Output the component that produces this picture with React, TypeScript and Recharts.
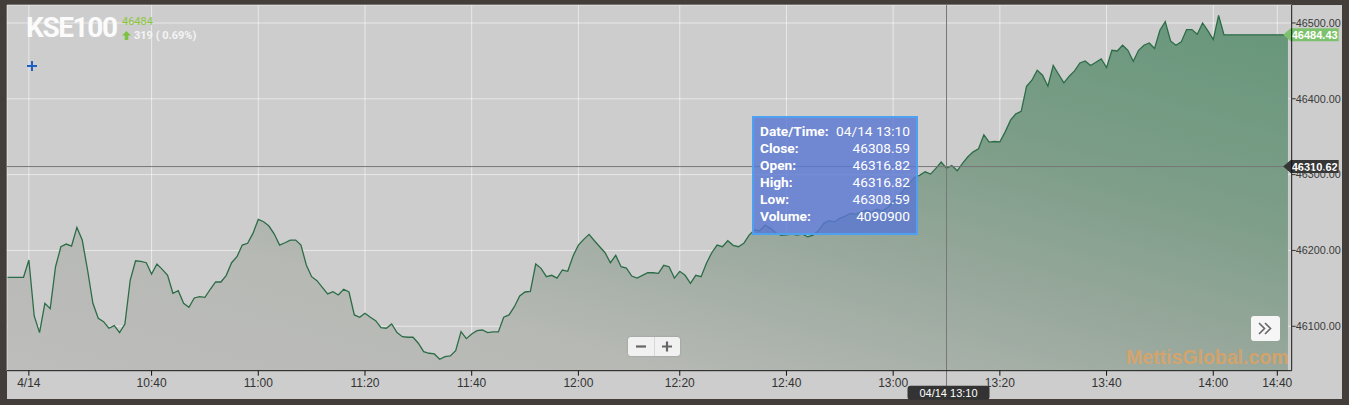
import React from 'react';
import {
  AreaChart,
  Area,
  XAxis,
  YAxis,
  CartesianGrid,
  Tooltip,
  ReferenceLine,
} from 'recharts';

document.body.style.margin = '0';

// one close per minute bar
const closes = [
  46164.6, 46164.6, 46164.6, 46164.6, 46187.4, 46113.6, 46091.6, 46130.3, 46123.2, 46178.5,
  46204.9, 46208.4, 46205.8, 46230.4, 46213.7, 46174.2, 46130.3, 46110.5, 46106.1, 46097.4,
  46100.8, 46091.6, 46103.0, 46161.0, 46186.4, 46185.6, 46183.8, 46168.9, 46182.1, 46175.1,
  46167.2, 46143.5, 46146.9, 46130.3, 46125.0, 46137.3, 46139.0, 46138.2, 46148.8, 46158.4,
  46158.4, 46167.2, 46183.8, 46191.7, 46207.1, 46209.4, 46222.5, 46241.0, 46237.8, 46232.2,
  46221.6, 46207.1, 46210.1, 46213.7, 46213.7, 46207.1, 46180.8, 46165.4, 46160.1, 46151.4,
  46142.6, 46145.6, 46141.2, 46148.8, 46145.2, 46114.9, 46111.9, 46117.1, 46111.9, 46107.4,
  46098.2, 46097.4, 46103.0, 46091.6, 46086.3, 46085.5, 46085.5, 46077.6, 46066.5, 46064.4,
  46063.5, 46056.5, 46060.0, 46060.9, 46067.9, 46092.9, 46083.7, 46089.9, 46094.2, 46095.1,
  46091.6, 46092.5, 46092.5, 46111.9, 46114.9, 46125.8, 46139.9, 46145.2, 46146.1, 46182.1,
  46176.4, 46165.4, 46167.2, 46163.6, 46174.2, 46172.5, 46192.6, 46207.1, 46214.6, 46221.2,
  46212.8, 46204.9, 46197.0, 46183.8, 46193.5, 46178.5, 46176.8, 46166.3, 46163.6, 46167.2,
  46170.6, 46170.6, 46169.8, 46180.4, 46178.5, 46163.6, 46172.5, 46167.2, 46156.7, 46167.2,
  46165.4, 46183.0, 46197.0, 46207.1, 46204.9, 46212.8, 46206.7, 46204.9, 46209.4, 46220.3,
  46226.9, 46226.0, 46233.5, 46229.1, 46223.3, 46219.9, 46220.7, 46221.6, 46220.3, 46221.6,
  46218.1, 46220.3, 46226.0, 46235.7, 46239.1, 46237.8, 46242.3, 46245.3, 46248.9, 46248.0,
  46250.6, 46253.2, 46250.6, 46254.2, 46252.3, 46256.8, 46264.2, 46270.8, 46280.5, 46288.4,
  46296.3, 46299.3, 46303.7, 46300.7, 46308.2, 46316.5, 46308.59, 46312.1, 46305.0, 46314.8,
  46323.5, 46330.0, 46334.0, 46352.4, 46342.8, 46343.7, 46343.2, 46356.4, 46371.8, 46380.1,
  46383.4, 46416.6, 46424.5, 46437.7, 46431.1, 46416.6, 46443.9, 46432.4, 46421.0, 46429.8,
  46436.8, 46447.3, 46449.9, 46443.9, 46448.2, 46452.6, 46441.2, 46464.0, 46463.1, 46470.6,
  46464.0, 46449.5, 46464.0, 46470.6, 46473.6, 46466.3, 46490.4, 46501.8, 46476.3, 46470.6,
  46475.0, 46491.3, 46491.3, 46485.1, 46500.0, 46489.5, 46478.1, 46510.1, 46484.43, 46484.43,
  46484.43, 46484.43, 46484.43, 46484.43, 46484.43, 46484.43, 46484.43, 46484.43, 46484.43, 46484.43,
  46484.43,
];

const tickIndex = [4, 27, 47, 67, 87, 107, 126, 146, 166, 186, 206, 226, 238];
const tickLabels = ['4/14', '10:40', '11:00', '11:20', '11:40', '12:00', '12:20', '12:40', '13:00', '13:20', '13:40', '14:00', '14:40'];
const priceTicks = [46100, 46200, 46300, 46400, 46500];

const lastClose = 46484.43;
const cursorPrice = 46310.62;
const cursorIndex = 176;
const cursorLabel = '04/14 13:10';

const tipLabels = ['Date/Time:', 'Close:', 'Open:', 'High:', 'Low:', 'Volume:'];
const tipValues = ['04/14 13:10', '46308.59', '46316.82', '46316.82', '46308.59', '4090900'];

const data = closes.map((close, i) => ({ i, close }));

const axisFont = '"Liberation Sans", Arial, sans-serif';

function priceBadge(text: string, bg: string) {
  return (props: any) => {
    const vb = props.viewBox;
    const x = vb.x + vb.width;
    const y = vb.y;
    return (
      <g>
        <path
          d={`M${x - 8.5},${y} L${x - 1},${y - 6.5} L${x + 47},${y - 6.5} L${x + 47},${y + 6.5} L${x - 1},${y + 6.5} Z`}
          fill={bg}
        />
        <text x={x + 23} y={y} dy="0.36em" textAnchor="middle" fill="#fff" fontSize={11} fontWeight="bold" fontFamily={axisFont}>
          {text}
        </text>
      </g>
    );
  };
}

function timeBadge(props: any) {
  const vb = props.viewBox;
  const x = vb.x;
  const bottom = vb.y + vb.height;
  return (
    <g>
      <line x1={x} x2={x} y1={bottom} y2={bottom + 16} stroke="#777" />
      <rect x={x - 39} y={bottom + 15} width={82} height={14} rx={3} fill="#333" />
      <text x={x + 2} y={bottom + 22} dy="0.36em" textAnchor="middle" fill="#fff" fontSize={11} fontFamily={axisFont}>
        {cursorLabel}
      </text>
    </g>
  );
}

function TipBox() {
  return (
    <div
      style={{
        width: 166,
        height: 119,
        boxSizing: 'border-box',
        background: 'rgba(92, 120, 210, 0.82)',
        border: '2px solid #4ea0f0',
        padding: '5px 6px 0 6px',
        fontFamily: 'Roboto, sans-serif',
        fontSize: 13.7,
        color: '#fff',
      }}
    >
      {tipLabels.map((l, k) => (
        <div key={l} style={{ display: 'flex', justifyContent: 'space-between', height: 17, lineHeight: '17px', whiteSpace: 'nowrap' }}>
          <span style={{ fontWeight: 700 }}>{l}</span>
          <span>{tipValues[k]}</span>
        </div>
      ))}
    </div>
  );
}

export default function App() {
  return (
    <div style={{ position: 'relative', width: 1349, height: 405, background: '#433e3a', fontFamily: axisFont, overflow: 'hidden' }}>
      <div style={{ position: 'absolute', left: 7, top: 5, width: 1335, height: 394, background: '#cdcdcd' }} />

      <div style={{ position: 'absolute', left: 0, top: 0 }}>
        <AreaChart width={1349} height={405} data={data} margin={{ top: 5, left: 7, right: 0, bottom: 0 }}>
          <defs>
            <linearGradient id="kseFill" x1="0" y1="1" x2="1" y2="0">
              <stop offset="0" stopColor="#bdbdbb" />
              <stop offset="0.25" stopColor="#b7b9b5" />
              <stop offset="0.5" stopColor="#98a89c" />
              <stop offset="0.7" stopColor="#7e9e89" />
              <stop offset="1" stopColor="#65967a" />
            </linearGradient>
          </defs>
          <XAxis
            dataKey="i"
            type="number"
            domain={[-0.1, 240.7]}
            allowDataOverflow
            ticks={tickIndex}
            tickFormatter={(v: number) => tickLabels[tickIndex.indexOf(v)]}
            height={34.3}
            axisLine={{ stroke: '#111' }}
            tickLine={{ stroke: '#111' }}
            tickSize={5}
            tickMargin={3}
            tick={{ fontSize: 12, fill: '#333' }}
            interval={0}
          />
          <YAxis
            orientation="right"
            type="number"
            domain={[46041.4, 46523.7]}
            allowDataOverflow
            ticks={priceTicks}
            tickFormatter={(v: number) => v.toFixed(2)}
            width={57.3}
            axisLine={{ stroke: '#111' }}
            tickLine={{ stroke: '#333' }}
            tickSize={4}
            tickMargin={0}
            tick={{ fontSize: 10.8, fill: '#3a3a3a' }}
            interval={0}
          />
          <Area
            type="linear"
            dataKey="close"
            stroke="#2c6c47"
            strokeWidth={1.3}
            fill="url(#kseFill)"
            fillOpacity={1}
            isAnimationActive={false}
            dot={false}
            activeDot={false}
          />
          <CartesianGrid stroke="#ffffff" strokeOpacity={0.55} />
          <ReferenceLine x={cursorIndex} stroke="#777" label={timeBadge} />
          <ReferenceLine y={cursorPrice} stroke="#777" label={priceBadge(cursorPrice.toFixed(2), '#363636')} />
          <ReferenceLine y={lastClose} stroke="none" label={priceBadge(lastClose.toFixed(2), '#7cc26c')} />
          <Tooltip
            active={true}
            defaultIndex={cursorIndex}
            position={{ x: 752, y: 116 }}
            cursor={false}
            isAnimationActive={false}
            content={<TipBox />}
            wrapperStyle={{ zIndex: 5 }}
          />
        </AreaChart>
      </div>

      {/* title block */}
      <div style={{ position: 'absolute', left: 26, top: 14, fontFamily: 'Roboto, sans-serif', fontWeight: 700, fontSize: 28, lineHeight: '28px', letterSpacing: -1.4, color: '#fbfbfb' }}>
        KSE100
      </div>
      <div style={{ position: 'absolute', left: 122, top: 14.5, fontFamily: 'Roboto, sans-serif', fontSize: 11, lineHeight: '14px', color: '#8cc63e' }}>
        46484
      </div>
      <div style={{ position: 'absolute', left: 122, top: 29.5, display: 'flex', alignItems: 'center', fontFamily: 'Roboto, sans-serif', fontWeight: 700, fontSize: 11, lineHeight: '11px', color: '#f4f4f4' }}>
        <svg width="9" height="9" style={{ marginRight: 3 }}>
          <path d="M4.5,0 L9,4.5 L6.3,4.5 L6.3,9 L2.7,9 L2.7,4.5 L0,4.5 Z" fill="#7cc243" />
        </svg>
        319 ( 0.69%)
      </div>
      <svg style={{ position: 'absolute', left: 26, top: 60 }} width="12" height="12">
        <path d="M6,1 L6,11 M1,6 L11,6" stroke="#1f5fc4" strokeWidth="2" />
      </svg>

      {/* zoom buttons */}
      <div style={{ position: 'absolute', left: 628, top: 337, width: 52, height: 19, background: '#f1f1f1', borderRadius: 3, boxShadow: '0 0 2px rgba(0,0,0,0.2)', display: 'flex' }}>
        <svg width="26" height="19"><path d="M8,9.5 L18,9.5" stroke="#666" strokeWidth="2.2" /></svg>
        <div style={{ width: 1, background: '#d8d8d8' }} />
        <svg width="25" height="19"><path d="M7,9.5 L17,9.5 M12,4.5 L12,14.5" stroke="#666" strokeWidth="2.2" /></svg>
      </div>
      <div style={{ position: 'absolute', left: 1251, top: 316, width: 29, height: 25, background: '#f6f6f6', borderRadius: 3 }}>
        <svg width="29" height="25">
          <path d="M8,7 L13.5,12.5 L8,18 M14,7 L19.5,12.5 L14,18" stroke="#666" strokeWidth="1.6" fill="none" />
        </svg>
      </div>

      {/* watermark */}
      <div style={{ position: 'absolute', left: 1126, top: 345, width: 165, height: 24, overflow: 'hidden' }}>
        <div style={{ fontFamily: axisFont, fontWeight: 700, fontSize: 19.5, lineHeight: '24px', color: '#f5a14f', opacity: 0.62, whiteSpace: 'nowrap' }}>
          MettisGlobal.com
        </div>
      </div>
    </div>
  );
}
